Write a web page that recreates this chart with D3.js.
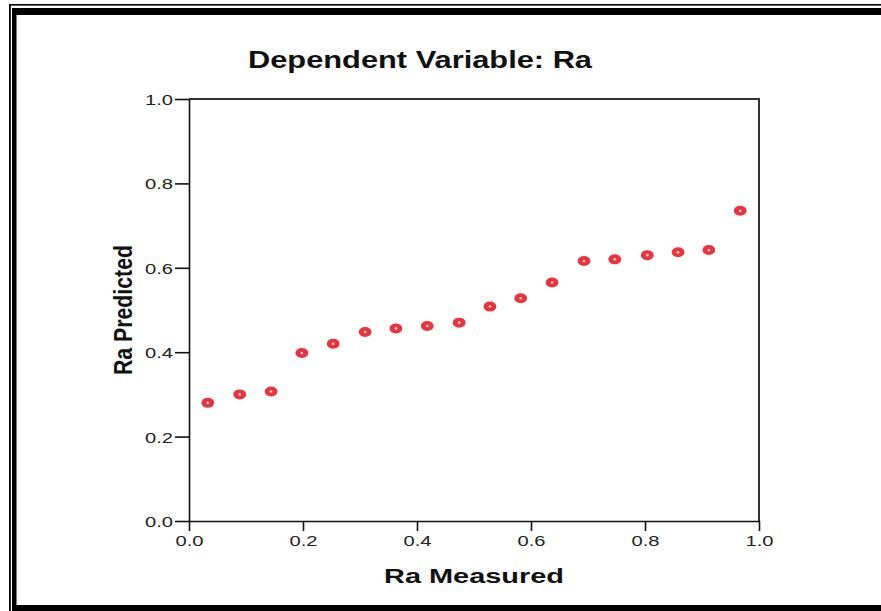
<!DOCTYPE html>
<html><head><meta charset="utf-8">
<script src="https://cdn.jsdelivr.net/npm/d3@7"></script>
<style>html,body{margin:0;padding:0;background:#fff;}svg{display:block;}</style>
</head><body>
<script>
const measured = [0.033,0.089,0.144,0.198,0.253,0.309,0.363,0.418,0.474,0.528,0.582,0.637,0.693,0.747,0.804,0.858,0.912,0.967];
const predicted = [0.28,0.30,0.307,0.398,0.42,0.448,0.456,0.462,0.47,0.508,0.528,0.565,0.616,0.62,0.63,0.637,0.642,0.735];
const xTicks = [0.0,0.2,0.4,0.6,0.8,1.0];
const yTicks = [0.0,0.2,0.4,0.6,0.8,1.0];
const titleText = "Dependent Variable: Ra";
const xTitle = "Ra Measured";
const yTitle = "Ra Predicted";

const W = 881, H = 611;
const svg = d3.select("body").append("svg").attr("width", W).attr("height", H);
svg.append("rect").attr("width", W).attr("height", H).attr("fill", "#fff");

// outer double border (report cell frame)
const bd = svg.append("g").attr("fill", "#000");
bd.append("rect").attr("x", 9).attr("y", 4).attr("width", W - 9).attr("height", 1.6);
bd.append("rect").attr("x", 9).attr("y", 4).attr("width", 1.8).attr("height", H - 4);
bd.append("rect").attr("x", 12).attr("y", 8).attr("width", W - 12).attr("height", 7);
bd.append("rect").attr("x", 12).attr("y", 8).attr("width", 4.5).attr("height", H - 8);
bd.append("rect").attr("x", 12).attr("y", 605).attr("width", W - 12).attr("height", 6);

const L = 189, R = 759, T = 99, B = 521;
const x = d3.scaleLinear().domain([0, 1]).range([L, R]);
const y = d3.scaleLinear().domain([0, 1]).range([B, T]);
const fmt = d3.format(".1f");

// frame top/right
svg.append("path").attr("d", `M${L},${T}H${R}V${B}`).attr("fill", "none")
  .attr("stroke", "#333").attr("stroke-width", 2);

const xa = svg.append("g").attr("transform", `translate(0,${B})`)
  .call(d3.axisBottom(x).tickValues(xTicks).tickFormat(fmt).tickSize(10).tickSizeOuter(0));
const ya = svg.append("g").attr("transform", `translate(${L},0)`)
  .call(d3.axisLeft(y).tickValues(yTicks).tickFormat(fmt).tickSize(14).tickSizeOuter(0));
[xa, ya].forEach(g => {
  g.select(".domain").attr("stroke", "#111").attr("stroke-width", 1.6);
  g.selectAll(".tick line").attr("stroke", "#111").attr("stroke-width", 1.6);
  g.selectAll(".tick text").attr("font-family", "Liberation Sans, Arial, sans-serif")
    .attr("font-size", 15).attr("fill", "#222").attr("textLength", 28).attr("lengthAdjust", "spacingAndGlyphs");
});
xa.selectAll(".tick text").attr("dy", null).attr("y", 25);
ya.selectAll(".tick text").attr("dy", null).attr("x", -16).attr("y", 5.5);

// points
const pts = svg.append("g");
measured.forEach((m, i) => {
  pts.append("ellipse").attr("cx", x(m)).attr("cy", y(predicted[i]))
    .attr("rx", 6.4).attr("ry", 5).attr("fill", "#e8343f");
  pts.append("circle").attr("cx", x(m)).attr("cy", y(predicted[i]))
    .attr("r", 1.3).attr("fill", "#fbd0d3");
});

// titles
svg.append("text").attr("x", 420).attr("y", 68).attr("text-anchor", "middle")
  .attr("font-family", "Liberation Sans, Arial, sans-serif").attr("font-weight", "bold")
  .attr("font-size", 24).attr("fill", "#111")
  .attr("textLength", 344).attr("lengthAdjust", "spacingAndGlyphs").text(titleText);
svg.append("text").attr("x", 474).attr("y", 583).attr("text-anchor", "middle")
  .attr("font-family", "Liberation Sans, Arial, sans-serif").attr("font-weight", "bold")
  .attr("font-size", 21).attr("fill", "#111")
  .attr("textLength", 180).attr("lengthAdjust", "spacingAndGlyphs").text(xTitle);
svg.append("text").attr("transform", `translate(132,310) rotate(-90)`).attr("text-anchor", "middle")
  .attr("font-family", "Liberation Sans, Arial, sans-serif").attr("font-weight", "bold")
  .attr("font-size", 26).attr("fill", "#111")
  .attr("textLength", 130).attr("lengthAdjust", "spacingAndGlyphs").text(yTitle);
</script>
</body></html>
